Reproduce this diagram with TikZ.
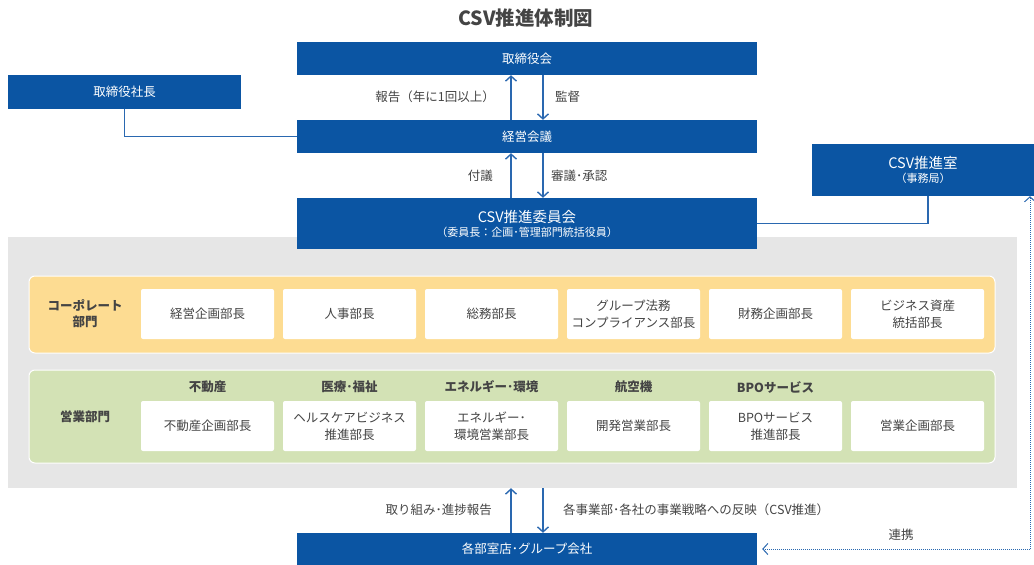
\documentclass[tikz,border=0pt]{standalone}
\usepackage{fontspec}
\setmainfont{Noto Sans CJK JP}
\usetikzlibrary{positioning,arrows.meta}
\definecolor{csvblue}{HTML}{0B55A3}
\definecolor{lineblue}{HTML}{2A68B0}
\definecolor{panelgray}{HTML}{E6E6E6}
\definecolor{corpyellow}{HTML}{FDDC92}
\definecolor{salesgreen}{HTML}{D3E2B5}
\definecolor{labelgray}{HTML}{444444}

\begin{document}
\begin{tikzpicture}[x=1pt,y=-1pt,>={Straight Barb[length=5pt,width=11pt]},
bluebox/.style={fill=csvblue,draw=none,text=white,inner sep=0pt,align=center,
    font=\fontsize{12.5}{15}\selectfont},
whitebox/.style={fill=white,rounded corners=2pt,minimum width=133pt,
    minimum height=50pt,inner sep=0pt,text=labelgray,align=center,
    font=\fontsize{12.5}{17}\selectfont},
panel/.style={draw=white,line width=1pt,rounded corners=6pt,inner sep=0pt},
catlabel/.style={text=labelgray,align=center,font=\bfseries\fontsize{12.5}{16}\selectfont},
flowlabel/.style={text=labelgray,inner sep=0pt,font=\fontsize{12.5}{15}\selectfont},
link/.style={draw=lineblue,line width=1.4pt},
dotlink/.style={draw=lineblue,line width=1pt,dash pattern=on 1pt off 1pt}]
\useasboundingbox (0,0) rectangle (1034,565);

% panels in the back
\node[fill=panelgray,minimum width=1009pt,minimum height=251pt,inner sep=0pt] (area) at (512.5,362.5) {};
\node[panel,fill=corpyellow,minimum width=966pt,minimum height=77pt] (corp) at (512,314.5) {};
\node[panel,fill=salesgreen,minimum width=966pt,minimum height=93pt] (sales) at (512,416.5) {};

\node[text=labelgray,font=\bfseries\fontsize{19.5}{22}\selectfont] (title) at (526,18) {CSV推進体制図};

% blue boxes
\node[bluebox,minimum width=460pt,minimum height=33pt] (board) at (527,58.5) {取締役会};
\node[bluebox,minimum width=233pt,minimum height=34pt] (pres) at (124.5,92) {取締役社長};
\node[bluebox,minimum width=460pt,minimum height=33pt] (mgmt) at (527,136.5) {経営会議};
\node[bluebox,minimum width=460pt,minimum height=51pt] (comm) at (527,223.5)
    {{\fontsize{14.5}{17}\selectfont CSV推進委員会}\\[-1pt]{\fontsize{11}{13}\selectfont （委員長：企画･管理部門統括役員）}};
\node[bluebox,minimum width=222pt,minimum height=52pt] (office) at (923,170)
    {{\fontsize{14.5}{17}\selectfont CSV推進室}\\[-1pt]{\fontsize{11}{13}\selectfont （事務局）}};
\node[bluebox,minimum width=460pt,minimum height=32pt] (units) at (527,549) {各部室店･グループ会社};

% corporate row
\node[catlabel] (corplbl) at (85,314) {コーポレート\\部門};
\begin{scope}[on grid,node distance=142pt]
\node[whitebox] (c1) at (207.5,314) {経営企画部長};
\node[whitebox] (c2) [right=of c1] {人事部長};
\node[whitebox] (c3) [right=of c2] {総務部長};
\node[whitebox] (c4) [right=of c3] {グループ法務\\コンプライアンス部長};
\node[whitebox] (c5) [right=of c4] {財務企画部長};
\node[whitebox] (c6) [right=of c5] {ビジネス資産\\統括部長};

% sales row
\node[catlabel] (saleslbl) at (85,417) {営業部門};
\node[whitebox] (s1) at (207.5,426) {不動産企画部長};
\node[whitebox] (s2) [right=of s1] {ヘルスケアビジネス\\推進部長};
\node[whitebox] (s3) [right=of s2] {エネルギー･\\環境営業部長};
\node[whitebox] (s4) [right=of s3] {開発営業部長};
\node[whitebox] (s5) [right=of s4] {BPOサービス\\推進部長};
\node[whitebox] (s6) [right=of s5] {営業企画部長};
\node[catlabel] (k1) [above=39pt of s1] {不動産};
\node[catlabel] (k2) [above=39pt of s2] {医療･福祉};
\node[catlabel] (k3) [above=39pt of s3] {エネルギー･環境};
\node[catlabel] (k4) [above=39pt of s4] {航空機};
\node[catlabel] (k5) [above=39pt of s5] {BPOサービス};
\end{scope}

% flows
\draw[link,->] ([xshift=-16pt]mgmt.north) -- ([xshift=-16pt]board.south);
\draw[link,->] ([xshift=16pt]board.south) -- ([xshift=16pt]mgmt.north);
\draw[link,->] ([xshift=-16pt]comm.north) -- ([xshift=-16pt]mgmt.south);
\draw[link,->] ([xshift=16pt]mgmt.south) -- ([xshift=16pt]comm.north);
\draw[link,->] ([xshift=-16pt]units.north) -- ([xshift=-16pt]area.south -| units.north);
\draw[link,->] ([xshift=16pt]area.south -| units.north) -- ([xshift=16pt]units.north);
\node[flowlabel,anchor=east] (rep) at (495,97) {報告（年に1回以上）};
\node[flowlabel,anchor=west] (sup) at (555,97) {監督};
\node[flowlabel,anchor=east] (sub) at (493,176) {付議};
\node[flowlabel,anchor=west] (appr) at (551,176) {審議･承認};
\node[flowlabel,anchor=east] (prog) at (492,510) {取り組み･進捗報告};
\node[flowlabel,anchor=west] (refl) at (563,510) {各事業部･各社の事業戦略への反映（CSV推進）};
\node[flowlabel] (coop) at (901,535) {連携};

% connectors
\draw[link] (pres.south) |- (mgmt.west);
\draw[link] (comm.east) -| ([xshift=5pt]office.south);
\coordinate (turn) at (1030,549);
\draw[dotlink,->,shorten >=5pt] (turn) -- (units.east);
\draw[dotlink,->] (turn) -- (office.south -| turn);
\end{tikzpicture}
\end{document}
